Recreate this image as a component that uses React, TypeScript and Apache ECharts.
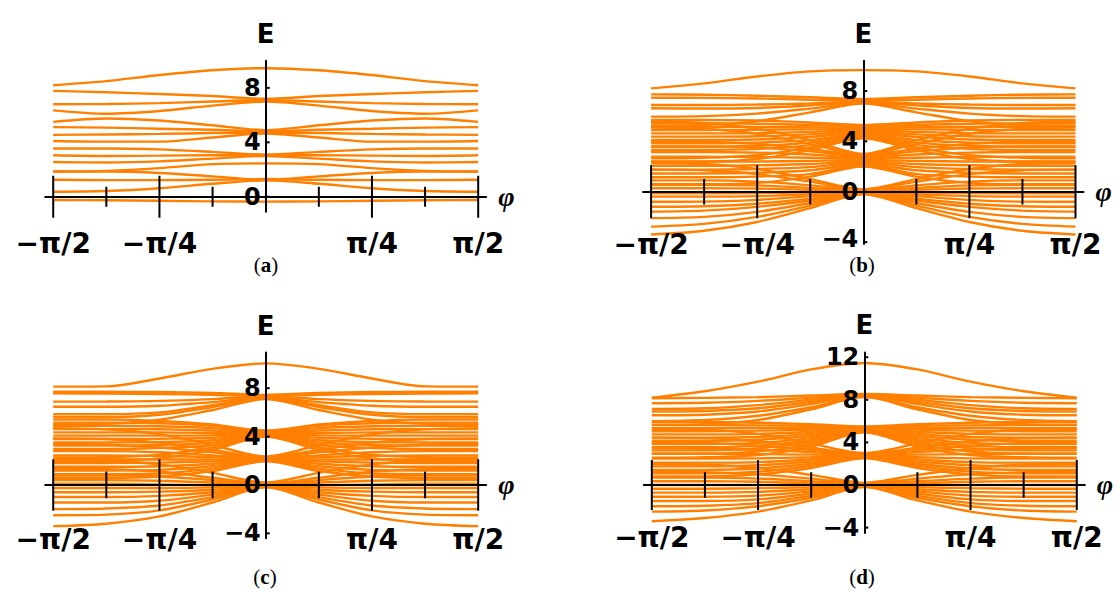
import React, { useEffect, useRef } from 'react';
import * as echarts from 'echarts';

const PI = Math.PI;

// sample angles of the half range, bands are symmetric in phi
const phiSamples = [0, PI / 8, PI / 4, (3 * PI) / 8, PI / 2];

const xTickValues = [-PI / 2, -PI / 4, PI / 4, PI / 2];
const xTickLabels = ['−π/2', '−π/4', 'π/4', 'π/2'];
const xMajorTicks = [-PI / 2, -PI / 4, PI / 4, PI / 2];
const xMinorTicks = [(-3 * PI) / 8, -PI / 8, PI / 8, (3 * PI) / 8];

const yTicksA = [0, 4, 8];
const yTicksB = [-4, 0, 4, 8];
const yTicksC = [-4, 0, 4, 8];
const yTicksD = [-4, 0, 4, 8, 12];

// each band: E at phi = 0, pi/8, pi/4, 3pi/8, pi/2
const bandsA = [
  [9.45, 9.3, 8.95, 8.5, 8.2],
  [7.2, 7.4, 7.55, 7.68, 7.78],
  [7.1, 7.0, 6.88, 6.82, 6.8],
  [7.0, 6.7, 6.3, 6.1, 6.35],
  [4.9, 5.25, 5.6, 5.75, 5.5],
  [4.8, 4.92, 5.0, 5.08, 5.12],
  [4.72, 4.68, 4.62, 4.58, 4.55],
  [4.65, 4.35, 4.05, 4.05, 4.1],
  [3.1, 3.3, 3.48, 3.55, 3.55],
  [3.05, 3.05, 3.02, 3.0, 3.05],
  [3.0, 2.8, 2.6, 2.52, 2.55],
  [2.45, 2.4, 2.1, 1.9, 1.85],
  [1.3, 1.25, 1.22, 1.22, 1.25],
  [1.25, 1.5, 1.75, 1.85, 1.85],
  [1.2, 0.95, 0.62, 0.42, 0.37],
  [-0.36, -0.34, -0.3, -0.26, -0.24],
];

const bandsB = [
  [9.65, 9.55, 9.15, 8.6, 8.2],
  [7.35, 7.5, 7.62, 7.7, 7.73],
  [7.25, 7.3, 7.4, 7.45, 7.46],
  [7.15, 7.0, 6.92, 6.88, 6.88],
  [7.1, 6.85, 6.65, 6.6, 6.62],
  [7.05, 6.6, 6.2, 6.0, 5.96],
  [7.0, 6.3, 5.6, 5.3, 5.25],
  [5.3, 5.5, 5.65, 5.7, 5.69],
  [5.2, 5.3, 5.4, 5.43, 5.43],
  [5.1, 5.12, 5.15, 5.16, 5.16],
  [5.0, 4.95, 4.92, 4.9, 4.9],
  [4.9, 4.75, 4.65, 4.63, 4.63],
  [4.8, 4.55, 4.4, 4.37, 4.37],
  [4.7, 4.35, 4.15, 4.1, 4.1],
  [4.6, 4.1, 3.9, 3.84, 3.84],
  [4.5, 3.9, 3.65, 3.57, 3.57],
  [4.4, 3.7, 3.4, 3.31, 3.31],
  [4.3, 3.5, 2.9, 2.7, 2.65],
  [4.25, 3.3, 2.6, 2.4, 2.4],
  [3.0, 4.1, 5.0, 5.45, 5.55],
  [2.95, 3.8, 4.6, 5.0, 5.1],
  [2.9, 3.4, 3.8, 3.95, 3.97],
  [2.8, 3.2, 3.5, 3.6, 3.6],
  [2.7, 2.95, 3.1, 3.15, 3.15],
  [2.6, 2.7, 2.75, 2.78, 2.78],
  [2.5, 2.45, 2.4, 2.38, 2.38],
  [2.4, 2.2, 2.1, 2.05, 2.05],
  [2.3, 1.95, 1.8, 1.75, 1.75],
  [2.2, 1.7, 1.5, 1.45, 1.45],
  [2.1, 1.4, 1.2, 1.15, 1.15],
  [2.0, 1.2, 0.7, 0.6, 0.6],
  [0.2, 1.0, 1.8, 2.2, 2.25],
  [0.15, 0.8, 1.4, 1.7, 1.75],
  [0.1, 0.5, 0.8, 0.9, 0.9],
  [0.05, 0.3, 0.5, 0.55, 0.55],
  [0.0, 0.15, 0.25, 0.27, 0.27],
  [0.0, -0.05, -0.1, -0.13, -0.13],
  [-0.05, -0.2, -0.35, -0.39, -0.39],
  [-0.05, -0.35, -0.65, -0.79, -0.8],
  [-0.1, -0.55, -0.95, -1.15, -1.19],
  [-0.1, -0.7, -1.2, -1.5, -1.58],
  [-0.15, -0.9, -1.6, -2.0, -2.1],
  [-0.15, -1.1, -2.0, -2.55, -2.77],
  [-0.2, -1.3, -2.4, -3.1, -3.4],
];

const bandsC = [
  [10.05, 9.6, 8.8, 8.15, 8.13],
  [7.45, 7.6, 7.68, 7.7, 7.71],
  [7.35, 7.45, 7.52, 7.56, 7.57],
  [7.3, 7.1, 6.95, 6.9, 6.89],
  [7.25, 6.85, 6.55, 6.47, 6.47],
  [7.2, 6.6, 6.0, 5.85, 5.85],
  [7.15, 6.45, 5.8, 5.6, 5.6],
  [7.1, 6.2, 5.4, 5.05, 5.0],
  [4.5, 5.0, 5.3, 5.4, 5.4],
  [4.45, 4.9, 5.1, 5.15, 5.15],
  [4.4, 4.7, 4.85, 4.9, 4.9],
  [4.35, 4.5, 4.6, 4.62, 4.62],
  [4.3, 4.3, 4.35, 4.35, 4.35],
  [4.25, 4.1, 4.08, 4.08, 4.08],
  [4.2, 3.9, 3.82, 3.8, 3.8],
  [4.15, 3.7, 3.55, 3.52, 3.52],
  [4.1, 3.5, 3.3, 3.25, 3.25],
  [4.05, 3.3, 3.05, 2.98, 2.98],
  [4.0, 3.1, 2.5, 2.3, 2.28],
  [4.0, 2.9, 2.2, 2.0, 1.95],
  [2.35, 3.3, 4.2, 4.6, 4.7],
  [2.3, 2.9, 3.5, 3.8, 3.85],
  [2.25, 2.7, 3.1, 3.35, 3.4],
  [2.2, 2.45, 2.7, 2.8, 2.8],
  [2.2, 2.3, 2.4, 2.45, 2.45],
  [2.15, 2.1, 2.1, 2.12, 2.12],
  [2.1, 1.95, 1.85, 1.82, 1.82],
  [2.1, 1.75, 1.55, 1.5, 1.5],
  [2.05, 1.55, 1.25, 1.2, 1.2],
  [2.0, 1.35, 0.95, 0.9, 0.9],
  [1.95, 1.15, 0.7, 0.6, 0.6],
  [0.2, 1.0, 1.7, 2.0, 2.05],
  [0.1, 0.6, 1.1, 1.3, 1.35],
  [0.05, 0.4, 0.7, 0.8, 0.8],
  [0.0, 0.2, 0.35, 0.4, 0.4],
  [0.0, 0.0, 0.05, 0.1, 0.1],
  [-0.05, -0.2, -0.25, -0.25, -0.25],
  [-0.05, -0.4, -0.55, -0.6, -0.6],
  [-0.1, -0.6, -0.9, -1.0, -1.0],
  [-0.1, -0.8, -1.3, -1.45, -1.45],
  [-0.15, -1.0, -1.7, -1.95, -2.0],
  [-0.15, -1.2, -2.1, -2.45, -2.5],
  [-0.2, -1.45, -2.6, -3.2, -3.4],
];

const bandsD = [
  [11.45, 10.85, 9.7, 8.8, 8.2],
  [8.55, 8.4, 8.25, 8.18, 8.15],
  [8.5, 8.2, 7.9, 7.72, 7.68],
  [8.45, 8.0, 7.5, 7.2, 7.15],
  [8.4, 7.8, 7.2, 6.95, 6.9],
  [8.35, 7.6, 6.9, 6.6, 6.55],
  [8.3, 7.3, 6.5, 6.1, 6.0],
  [8.25, 7.1, 6.1, 5.7, 5.65],
  [5.5, 5.7, 5.85, 5.9, 5.9],
  [5.45, 5.55, 5.6, 5.62, 5.62],
  [5.4, 5.38, 5.35, 5.33, 5.33],
  [5.35, 5.2, 5.1, 5.05, 5.05],
  [5.3, 5.0, 4.8, 4.75, 4.75],
  [5.25, 4.8, 4.5, 4.45, 4.45],
  [5.2, 4.6, 4.25, 4.15, 4.15],
  [5.15, 4.4, 3.95, 3.85, 3.85],
  [5.1, 4.2, 3.7, 3.55, 3.55],
  [5.05, 4.0, 3.45, 3.25, 3.25],
  [5.0, 3.8, 3.15, 2.95, 2.95],
  [4.95, 3.6, 2.8, 2.6, 2.55],
  [3.0, 3.9, 4.8, 5.2, 5.25],
  [2.95, 3.5, 4.1, 4.4, 4.45],
  [2.9, 3.3, 3.7, 3.95, 4.0],
  [2.85, 3.1, 3.3, 3.4, 3.45],
  [2.8, 2.85, 2.9, 2.92, 2.92],
  [2.75, 2.6, 2.5, 2.48, 2.48],
  [2.7, 2.4, 2.15, 2.1, 2.1],
  [2.65, 2.2, 1.85, 1.75, 1.75],
  [2.6, 2.0, 1.55, 1.42, 1.4],
  [2.55, 1.8, 1.25, 1.1, 1.1],
  [2.5, 1.6, 1.0, 0.8, 0.8],
  [0.2, 0.95, 1.6, 1.9, 1.95],
  [0.1, 0.6, 1.0, 1.2, 1.25],
  [0.05, 0.35, 0.6, 0.7, 0.7],
  [0.0, 0.15, 0.3, 0.35, 0.35],
  [0.0, 0.0, 0.0, 0.0, 0.0],
  [-0.05, -0.2, -0.3, -0.35, -0.35],
  [-0.05, -0.4, -0.65, -0.72, -0.72],
  [-0.1, -0.6, -1.0, -1.1, -1.1],
  [-0.1, -0.8, -1.35, -1.5, -1.5],
  [-0.15, -1.0, -1.7, -1.95, -2.0],
  [-0.15, -1.2, -2.0, -2.4, -2.5],
  [-0.2, -1.45, -2.5, -3.1, -3.4],
];

const captions = ['a', 'b', 'c', 'd'];

// layout / style per panel
const panels = [
  { bands: bandsA, yTicks: yTicksA, left: 45.2, top: 60.7, width: 441, height: 151, yMin: -1.1, yMax: 10, major: 21, minor: 10, labelDy: 46.5, yLabelShift: 0, capX: 266, capY: 265 },
  { bands: bandsB, yTicks: yTicksB, left: 643.1, top: 60.7, width: 440.4, height: 183.3, yMin: -4.15, yMax: 10.4, major: 26.5, minor: 12.8, labelDy: 52.5, yLabelShift: -3, capX: 862, capY: 265 },
  { bands: bandsC, yTicks: yTicksC, left: 45.2, top: 352.5, width: 441, height: 185.7, yMin: -4.4, yMax: 10.95, major: 25.7, minor: 13.3, labelDy: 55, yLabelShift: 0, capX: 265, capY: 577 },
  { bands: bandsD, yTicks: yTicksD, left: 643.8, top: 352.4, width: 441, height: 180.5, yMin: -4.5, yMax: 12.45, major: 25, minor: 12.8, labelDy: 53, yLabelShift: 0, capX: 862, capY: 577 },
];

const ORANGE = '#ff8000';
const SANS = 'DejaVu Sans, Liberation Sans, sans-serif';
const SERIF = 'Liberation Serif, Times New Roman, serif';

function fmtY(v: number): string {
  return v < 0 ? '−' + String(-v) : String(v);
}

function buildOption() {
  const grid: any[] = [];
  const xAxis: any[] = [];
  const yAxis: any[] = [];
  const series: any[] = [];
  const graphic: any[] = [];

  panels.forEach((p, i) => {
    grid.push({ left: p.left, top: p.top, width: p.width, height: p.height, containLabel: false });
    xAxis.push({
      type: 'value',
      gridIndex: i,
      min: -1.63,
      max: 1.63,
      z: 5,
      axisLine: { show: true, onZero: true, lineStyle: { color: '#000', width: 2 } },
      axisTick: { show: false },
      splitLine: { show: false },
      axisLabel: { show: false },
      name: 'φ',
      nameLocation: 'end',
      nameGap: 12,
      nameTextStyle: { fontSize: 28, fontWeight: 'bold', fontStyle: 'italic', fontFamily: SERIF, color: '#000' },
    });
    yAxis.push({
      type: 'value',
      gridIndex: i,
      min: p.yMin,
      max: p.yMax,
      z: 5,
      axisLine: { show: true, onZero: true, lineStyle: { color: '#000', width: 2 } },
      axisTick: { show: false },
      splitLine: { show: false },
      axisLabel: { show: false },
      name: 'E',
      nameLocation: 'end',
      nameGap: 14,
      nameTextStyle: { fontSize: 26, fontWeight: 'bold', fontFamily: SANS, color: '#000' },
    });

    p.bands.forEach((b) => {
      const data: number[][] = [];
      for (let k = phiSamples.length - 1; k >= 1; k--) data.push([-phiSamples[k], b[k]]);
      for (let k = 0; k < phiSamples.length; k++) data.push([phiSamples[k], b[k]]);
      series.push({
        type: 'line',
        xAxisIndex: i,
        yAxisIndex: i,
        data,
        showSymbol: false,
        symbol: 'none',
        smooth: 0.3,
        silent: true,
        z: 2,
        lineStyle: { color: ORANGE, width: 2.4 },
        emphasis: { disabled: true },
      });
    });

    // x ticks crossing the axis
    const ticks = xMajorTicks.map((v) => [v, 1]).concat(xMinorTicks.map((v) => [v, 0]));
    series.push({
      type: 'custom',
      xAxisIndex: i,
      yAxisIndex: i,
      silent: true,
      clip: false,
      z: 10,
      data: ticks,
      renderItem: (params: any, api: any) => {
        const v = api.value(0);
        const kind = api.value(1);
        const c = api.coord([v, 0]);
        const L = kind ? p.major : p.minor;
        return {
          type: 'line',
          shape: { x1: c[0], y1: c[1] - L, x2: c[0], y2: c[1] + L },
          style: { stroke: '#000', lineWidth: 2 },
        };
      },
    });

    // x tick labels
    series.push({
      type: 'custom',
      xAxisIndex: i,
      yAxisIndex: i,
      silent: true,
      clip: false,
      z: 10,
      data: xTickValues.map((v) => [v, 0]),
      renderItem: (params: any, api: any) => {
        const c = api.coord([api.value(0), 0]);
        return {
          type: 'text',
          x: c[0],
          y: c[1] + p.labelDy,
          style: {
            text: xTickLabels[params.dataIndex],
            fill: '#000',
            fontSize: 28,
            fontWeight: 'bold',
            fontFamily: SANS,
            align: 'center',
            verticalAlign: 'middle',
          },
        };
      },
    });

    // y ticks and labels at the y axis (phi = 0)
    series.push({
      type: 'custom',
      xAxisIndex: i,
      yAxisIndex: i,
      silent: true,
      clip: false,
      z: 10,
      data: p.yTicks.map((v) => [0, v]),
      renderItem: (params: any, api: any) => {
        const val = api.value(1);
        const c = api.coord([0, val]);
        const shift = val < 0 ? p.yLabelShift : 0;
        return {
          type: 'group',
          children: [
            {
              type: 'line',
              shape: { x1: c[0], y1: c[1], x2: c[0] + 4, y2: c[1] },
              style: { stroke: '#000', lineWidth: 2 },
            },
            {
              type: 'text',
              x: c[0] - 5,
              y: c[1] + shift,
              style: {
                text: fmtY(val),
                fill: '#000',
                fontSize: 24,
                fontWeight: 'bold',
                fontFamily: SANS,
                align: 'right',
                verticalAlign: 'middle',
              },
            },
          ],
        };
      },
    });

    graphic.push({
      type: 'text',
      x: p.capX,
      y: p.capY,
      style: {
        text: '{p|(}{b|' + captions[i] + '}{p|)}',
        align: 'center',
        verticalAlign: 'middle',
        rich: {
          p: { fontFamily: SERIF, fontSize: 21, fill: '#000' },
          b: { fontFamily: SERIF, fontSize: 21, fontWeight: 'bold', fill: '#000' },
        },
      },
    });
  });

  return {
    animation: false,
    backgroundColor: '#fff',
    grid,
    xAxis,
    yAxis,
    series,
    graphic,
  };
}

export default function App() {
  const ref = useRef<HTMLDivElement>(null);
  useEffect(() => {
    if (!ref.current) return;
    const chart = echarts.init(ref.current, undefined, { renderer: 'svg' });
    chart.setOption(buildOption());
    return () => chart.dispose();
  }, []);
  return (
    <div
      ref={ref}
      style={{ position: 'fixed', left: 0, top: 0, width: 1120, height: 592, background: '#fff' }}
    />
  );
}
